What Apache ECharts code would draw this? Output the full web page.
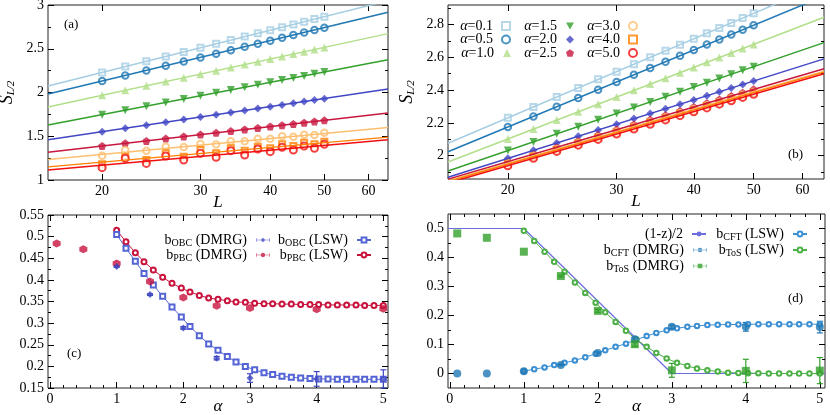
<!DOCTYPE html>
<html>
<head>
<meta charset="utf-8">
<script src="https://cdn.jsdelivr.net/npm/echarts@6/dist/echarts.min.js"></script>
<style>
  html, body { margin: 0; padding: 0; background: #fff; }
  #chart { width: 830px; height: 415px; }
</style>
</head>
<body>
<div id="chart"></div>
<script>
// ---------- data ----------
var lSizes = [20, 22, 24, 26, 28, 30, 32, 34, 36, 38, 40, 42, 44, 46, 48, 50];
var alphaNames = ['0.1', '0.5', '1.0', '1.5', '2.0', '2.5', '3.0', '4.0', '5.0'];

// (a) S_{L/2}, one array per alpha
var a01 = [2.230, 2.296, 2.357, 2.412, 2.464, 2.512, 2.557, 2.599, 2.639, 2.677, 2.712, 2.746, 2.778, 2.809, 2.839, 2.867];
var a05 = [2.131, 2.194, 2.252, 2.306, 2.355, 2.401, 2.444, 2.484, 2.522, 2.558, 2.592, 2.625, 2.656, 2.686, 2.714, 2.741];
var a10 = [1.968, 2.025, 2.077, 2.125, 2.169, 2.210, 2.249, 2.285, 2.319, 2.351, 2.382, 2.411, 2.439, 2.466, 2.491, 2.515];
var a15 = [1.747, 1.798, 1.844, 1.887, 1.926, 1.963, 1.997, 2.029, 2.060, 2.088, 2.116, 2.142, 2.166, 2.190, 2.213, 2.234];
var a20 = [1.552, 1.591, 1.627, 1.660, 1.691, 1.719, 1.746, 1.771, 1.795, 1.817, 1.838, 1.858, 1.878, 1.896, 1.914, 1.930];
var a25 = [1.389, 1.420, 1.447, 1.473, 1.497, 1.519, 1.539, 1.559, 1.577, 1.594, 1.611, 1.626, 1.641, 1.655, 1.669, 1.682];
var a30 = [1.278, 1.343, 1.335, 1.381, 1.377, 1.411, 1.407, 1.442, 1.442, 1.472, 1.472, 1.499, 1.495, 1.518, 1.514, 1.541];
var a40 = [1.179, 1.274, 1.229, 1.305, 1.267, 1.343, 1.305, 1.362, 1.335, 1.381, 1.362, 1.408, 1.389, 1.427, 1.408, 1.438];
var a50 = [1.141, 1.248, 1.190, 1.274, 1.229, 1.305, 1.259, 1.335, 1.286, 1.354, 1.324, 1.373, 1.343, 1.389, 1.362, 1.408];
// fitted lines of (a), value at L=16 and L=65
var fitL = [16, 65];
var fitAStart = [2.075, 1.982, 1.835, 1.628, 1.460, 1.318, 1.235, 1.150, 1.113];
var fitAEnd = [3.049, 2.916, 2.673, 2.374, 2.039, 1.766, 1.600, 1.490, 1.460];

// (b)
var b01 = [2.231, 2.297, 2.358, 2.413, 2.465, 2.512, 2.557, 2.599, 2.639, 2.676, 2.712, 2.746, 2.778, 2.809, 2.839, 2.867];
var b05 = [2.175, 2.239, 2.298, 2.352, 2.402, 2.449, 2.493, 2.534, 2.572, 2.609, 2.644, 2.677, 2.708, 2.738, 2.767, 2.794];
var b10 = [2.102, 2.162, 2.217, 2.267, 2.314, 2.357, 2.398, 2.436, 2.472, 2.506, 2.538, 2.569, 2.598, 2.626, 2.653, 2.678];
var b15 = [2.031, 2.084, 2.133, 2.177, 2.219, 2.257, 2.293, 2.327, 2.359, 2.389, 2.418, 2.445, 2.471, 2.496, 2.520, 2.542];
var b20 = [1.984, 2.033, 2.078, 2.119, 2.157, 2.192, 2.226, 2.257, 2.286, 2.314, 2.340, 2.365, 2.389, 2.412, 2.434, 2.455];
var b25 = [1.964, 2.010, 2.051, 2.090, 2.126, 2.159, 2.190, 2.219, 2.246, 2.272, 2.297, 2.320, 2.342, 2.364, 2.384, 2.404];
var b30 = [1.954, 1.999, 2.041, 2.079, 2.114, 2.147, 2.178, 2.207, 2.234, 2.260, 2.284, 2.307, 2.329, 2.350, 2.371, 2.390];
var b40 = [1.948, 1.993, 2.035, 2.073, 2.108, 2.141, 2.172, 2.201, 2.228, 2.254, 2.278, 2.301, 2.323, 2.344, 2.365, 2.384];
var b50 = [1.939, 1.984, 2.026, 2.064, 2.099, 2.132, 2.162, 2.191, 2.218, 2.244, 2.268, 2.291, 2.314, 2.335, 2.355, 2.374];
var fitBStart = [2.076, 2.024, 1.962, 1.907, 1.869, 1.857, 1.848, 1.842, 1.833];
var fitBEnd = [3.049, 2.972, 2.843, 2.689, 2.590, 2.530, 2.515, 2.509, 2.499];

// (c) and (d): DMRG points
var alphaDmrg = [0.1, 0.5, 1.0, 1.5, 2.0, 2.5, 3.0, 4.0, 5.0];
var obcDmrg = [null, null, 0.431, 0.366, 0.289, 0.219, 0.173, 0.171, 0.171];
var obcDmrgErr = [0, 0, 0.002, 0.002, 0.003, 0.004, 0.010, 0.017, 0.021];
var pbcDmrg = [0.484, 0.471, 0.438, 0.396, 0.359, 0.340, 0.335, 0.332, 0.333];
var cftDmrg = [0.000, 0.000, 0.008, 0.029, 0.071, 0.118, 0.161, 0.161, 0.160];
var cftDmrgErr = [0, 0, 0, 0.002, 0.003, 0.004, 0.006, 0.015, 0.020];
var tosDmrg = [0.483, 0.468, 0.420, 0.336, 0.216, 0.101, 0.011, 0.009, 0.010];
var tosDmrgErr = [0, 0, 0, 0.003, 0.005, 0.008, 0.024, 0.040, 0.045];

// LSW curves
var alphaLsw = [1.00, 1.14, 1.28, 1.41, 1.55, 1.69, 1.83, 1.97, 2.10, 2.24, 2.38, 2.52, 2.66, 2.79, 2.93,
                3.07, 3.21, 3.34, 3.48, 3.62, 3.76, 3.90, 4.03, 4.17, 4.31, 4.45, 4.59, 4.72, 4.86, 5.00];
var obcLsw = [0.505, 0.473, 0.443, 0.415, 0.388, 0.362, 0.337, 0.314, 0.292, 0.271, 0.252, 0.237, 0.223, 0.210, 0.200,
              0.192, 0.185, 0.181, 0.177, 0.175, 0.173, 0.172, 0.171, 0.171, 0.170, 0.170, 0.170, 0.170, 0.170, 0.170];
var pbcLsw = [0.515, 0.488, 0.463, 0.442, 0.423, 0.406, 0.392, 0.381, 0.372, 0.364, 0.358, 0.355, 0.352, 0.349, 0.348,
              0.346, 0.345, 0.345, 0.344, 0.344, 0.343, 0.343, 0.343, 0.342, 0.342, 0.342, 0.342, 0.341, 0.341, 0.341];
var cftLsw = [0.008, 0.015, 0.021, 0.029, 0.037, 0.045, 0.056, 0.068, 0.080, 0.092, 0.103, 0.117, 0.129, 0.140, 0.149,
              0.156, 0.161, 0.164, 0.167, 0.168, 0.169, 0.169, 0.170, 0.170, 0.170, 0.170, 0.170, 0.170, 0.170, 0.170];
var tosLsw = [0.492, 0.457, 0.420, 0.385, 0.351, 0.314, 0.278, 0.244, 0.211, 0.178, 0.147, 0.117, 0.092, 0.071, 0.052,
              0.037, 0.026, 0.017, 0.011, 0.007, 0.003, 0.002, 0.001, 0.001, 0.000, 0.000, 0.000, 0.000, 0.000, 0.000];
// (1-z)/2
var zAlpha = [-0.03, 1, 3, 5.07];
var zHalf = [0.5, 0.5, 0, 0];

// tick labels
var tickL = [20, 30, 40, 50, 60];
var tickA = [1, 1.5, 2, 2.5, 3];
var minorA = [1.25, 1.75, 2.25, 2.75];
var tickB = [2, 2.2, 2.4, 2.6, 2.8];
var minorB = [1.9, 2.1, 2.3, 2.5, 2.7, 2.9];
var tickC = [0.15, 0.2, 0.25, 0.3, 0.35, 0.4, 0.45, 0.5, 0.55];
var minorC = [0.175, 0.225, 0.275, 0.325, 0.375, 0.425, 0.475, 0.525];
var tickD = [0, 0.1, 0.2, 0.3, 0.4, 0.5];
var minorD = [0.05, 0.15, 0.25, 0.35, 0.45];
var tickAlpha = [0, 1, 2, 3, 4, 5];

// ---------- chart ----------
var FONT = 'Liberation Serif';
var chart = echarts.init(document.getElementById('chart'));

var minorAlpha = [];
for (var m = 0; m < 5; m++) {
  for (var q = 1; q < 5; q++) minorAlpha.push(m + q * 0.2);
}
var lnTicks = tickL.map(function (v) { return Math.log(v); });

function fmtNum(v) { return String(Math.round(v * 1000) / 1000); }
function fmtL(v) { return String(Math.round(Math.exp(v))); }

var nameItalic = { fontFamily: FONT, fontSize: 17, fontStyle: 'italic', color: '#000' };
var nameS = {
  fontFamily: FONT, fontSize: 17, color: '#000',
  rich: {
    s: { fontFamily: FONT, fontSize: 18, fontStyle: 'italic', color: '#000' },
    sub: { fontFamily: FONT, fontSize: 11, fontStyle: 'italic', color: '#000', verticalAlign: 'bottom', padding: [9, 0, 0, 0] }
  }
};

// box axes: labelled major ticks + mirrored ticks on the other side, optional minor ticks
function addAxes(list, dim, gi, min, max, majors, minors, fmt, name, nameGap, nameStyle) {
  var pos = dim === 'x' ? ['bottom', 'top'] : ['left', 'right'];
  function base(p) {
    return {
      type: 'value', gridIndex: gi, min: min, max: max, position: p,
      splitLine: { show: false }, axisLine: { show: false, onZero: false }
    };
  }
  var first = list.length;
  var main = base(pos[0]);
  main.axisTick = { inside: true, length: 6, customValues: majors, lineStyle: { color: '#000' } };
  main.axisLabel = { customValues: majors, formatter: fmt, fontFamily: FONT, fontSize: 14, color: '#000', margin: 4 };
  if (name) {
    main.name = name;
    main.nameLocation = 'middle';
    main.nameGap = nameGap;
    main.nameMoveOverlap = false;
    main.nameTextStyle = nameStyle;
    if (dim === 'y') main.nameRotate = 90;
  }
  list.push(main);
  var mirror = base(pos[1]);
  mirror.axisTick = { inside: true, length: 6, customValues: majors, lineStyle: { color: '#000' } };
  mirror.axisLabel = { show: false };
  list.push(mirror);
  if (minors) {
    for (var k = 0; k < 2; k++) {
      var mi = base(pos[k]);
      mi.axisTick = { inside: true, length: 3, customValues: minors, lineStyle: { color: '#000' } };
      mi.axisLabel = { show: false };
      list.push(mi);
    }
  }
  return first;
}

var xAxes = [], yAxes = [];
// (a)
var xLogA = xAxes.length;
xAxes.push({ type: 'log', gridIndex: 0, min: 16, max: 65, show: false });
addAxes(xAxes, 'x', 0, Math.log(16), Math.log(65), lnTicks, null, fmtL, 'L', 14, nameItalic);
var yA = addAxes(yAxes, 'y', 0, 1, 3, tickA, minorA, fmtNum, '{s|S}{sub|L/2}', 31, nameS);
// (b)
var xLogB = xAxes.length;
xAxes.push({ type: 'log', gridIndex: 1, min: 16, max: 65, show: false });
addAxes(xAxes, 'x', 1, Math.log(16), Math.log(65), lnTicks, null, fmtL, 'L', 14, nameItalic);
var yB = addAxes(yAxes, 'y', 1, 1.858, 2.918, tickB, minorB, fmtNum, '{s|S}{sub|L/2}', 31, nameS);
// (c)
var xC = addAxes(xAxes, 'x', 2, -0.03, 5.07, tickAlpha, minorAlpha, fmtNum, 'α', 10, nameItalic);
var yC = addAxes(yAxes, 'y', 2, 0.15, 0.55, tickC, minorC, fmtNum, '', 0, null);
// (d)
var xD = addAxes(xAxes, 'x', 3, -0.025, 5.07, tickAlpha, minorAlpha, fmtNum, 'α', 10, nameItalic);
var yD = addAxes(yAxes, 'y', 3, -0.05, 0.55, tickD, minorD, fmtNum, '', 0, null);

function zip(xs, ys) {
  var out = [];
  xs.forEach(function (x, k) { if (ys[k] != null) out.push([x, ys[k]]); });
  return out;
}

function errRender(params, api) {
  var x = api.value(0), y = api.value(1), e = api.value(2);
  var lo = api.coord([x, y - e]), hi = api.coord([x, y + e]);
  var st = { stroke: api.visual('color'), lineWidth: 1.2 };
  return {
    type: 'group', children: [
      { type: 'line', shape: { x1: lo[0], y1: lo[1], x2: hi[0], y2: hi[1] }, style: st },
      { type: 'line', shape: { x1: lo[0] - 3, y1: lo[1], x2: lo[0] + 3, y2: lo[1] }, style: st },
      { type: 'line', shape: { x1: hi[0] - 3, y1: hi[1], x2: hi[0] + 3, y2: hi[1] }, style: st }
    ]
  };
}
function errSeries(name, xi, yi, ys, es, color) {
  var data = [];
  alphaDmrg.forEach(function (x, k) { if (ys[k] != null && es[k] > 0) data.push([x, ys[k], es[k]]); });
  return {
    type: 'custom', name: name, xAxisIndex: xi, yAxisIndex: yi, data: data, silent: true, z: 3,
    encode: { x: 0, y: 1 }, itemStyle: { color: color }, renderItem: errRender
  };
}

var colAB = ['#a6cee3', '#1f78b4', '#b2df8a', '#33a02c', '#4247c4', '#c8173f', '#fdbf6f', '#ff7f00', '#f01010'];
var PENTA = 'path://M0,-1 L0.951,-0.309 L0.588,0.809 L-0.588,0.809 L-0.951,-0.309 Z';
var DOWN = 'path://M-1,-0.8 L1,-0.8 L0,0.9 Z';
var symAB = [
  { s: 'emptyRect', size: 6, bw: 1.3 },
  { s: 'emptyCircle', size: 6.5, bw: 1.3 },
  { s: 'triangle', size: 8 },
  { s: DOWN, size: 8 },
  { s: 'diamond', size: 8 },
  { s: PENTA, size: 8 },
  { s: 'emptyCircle', size: 6.5, bw: 1.4 },
  { s: 'emptyRect', size: 6, bw: 2 },
  { s: 'emptyCircle', size: 7, bw: 2.2 }
];

var series = [];
function addFitPanel(xi, yi, arrs, starts, ends) {
  arrs.forEach(function (arr, i) {
    series.push({
      type: 'line', name: 'fit' + xi + '_' + i, xAxisIndex: xi, yAxisIndex: yi, silent: true,
      data: [[fitL[0], starts[i]], [fitL[1], ends[i]]], symbol: 'none', clip: true,
      lineStyle: { color: colAB[i], width: 1.5 }
    });
  });
  arrs.forEach(function (arr, i) {
    var sy = symAB[i];
    series.push({
      type: 'scatter', name: 'α=' + alphaNames[i], xAxisIndex: xi, yAxisIndex: yi,
      data: zip(lSizes, arr), symbol: sy.s, symbolSize: sy.size,
      itemStyle: { color: colAB[i], borderColor: colAB[i], borderWidth: sy.bw || 0 }
    });
  });
}
addFitPanel(xLogA, yA, [a01, a05, a10, a15, a20, a25, a30, a40, a50], fitAStart, fitAEnd);
addFitPanel(xLogB, yB, [b01, b05, b10, b15, b20, b25, b30, b40, b50], fitBStart, fitBEnd);

// (c)
var cObc = '#3f47c2', cObcL = '#5464d4', cPbc = '#c8133d';
series.push({
  type: 'line', name: 'b_PBC (LSW)', xAxisIndex: xC, yAxisIndex: yC, data: zip(alphaLsw, pbcLsw),
  symbol: 'emptyCircle', symbolSize: 5, lineStyle: { color: cPbc, width: 1 },
  itemStyle: { color: cPbc, borderWidth: 1 }
});
series.push({
  type: 'line', name: 'b_OBC (LSW)', xAxisIndex: xC, yAxisIndex: yC, data: zip(alphaLsw, obcLsw),
  symbol: 'emptyRect', symbolSize: 5, lineStyle: { color: cObcL, width: 1 },
  itemStyle: { color: cObcL, borderWidth: 1 }
});
series.push(errSeries('errObc', xC, yC, obcDmrg, obcDmrgErr, cObc));
var HEXA = 'path://M0,-1 L0.87,-0.5 L0.87,0.5 L0,1 L-0.87,0.5 L-0.87,-0.5 Z';
series.push({
  type: 'scatter', name: 'b_PBC (DMRG)', xAxisIndex: xC, yAxisIndex: yC, data: zip(alphaDmrg, pbcDmrg),
  symbol: HEXA, symbolSize: 8, itemStyle: { color: cPbc }, z: 4
});
series.push({
  type: 'scatter', name: 'b_OBC (DMRG)', xAxisIndex: xC, yAxisIndex: yC, data: zip(alphaDmrg, obcDmrg),
  symbol: 'diamond', symbolSize: 7, itemStyle: { color: cObc }, z: 4
});

// (d)
var cZ = '#6d6de0', cCft = '#1f78b4', cCftL = '#3b8fd2', cTos = '#33a02c', cTosL = '#4cb046';
series.push({
  type: 'line', name: '(1-z)/2', xAxisIndex: xD, yAxisIndex: yD, data: zip(zAlpha, zHalf),
  symbol: 'none', lineStyle: { color: cZ, width: 1.2 }, itemStyle: { color: cZ }
});
series.push({
  type: 'line', name: 'b_CFT (LSW)', xAxisIndex: xD, yAxisIndex: yD, data: zip(alphaLsw, cftLsw),
  symbol: 'emptyCircle', symbolSize: 4.5, lineStyle: { color: cCftL, width: 1 },
  itemStyle: { color: cCftL, borderWidth: 1 }
});
series.push({
  type: 'line', name: 'b_ToS (LSW)', xAxisIndex: xD, yAxisIndex: yD, data: zip(alphaLsw, tosLsw),
  symbol: 'emptyCircle', symbolSize: 4.5, lineStyle: { color: cTosL, width: 1 },
  itemStyle: { color: cTosL, borderWidth: 1 }
});
series.push(errSeries('errCft', xD, yD, cftDmrg, cftDmrgErr, cCft));
series.push(errSeries('errTos', xD, yD, tosDmrg, tosDmrgErr, cTos));
series.push({
  type: 'scatter', name: 'b_CFT (DMRG)', xAxisIndex: xD, yAxisIndex: yD, data: zip(alphaDmrg, cftDmrg),
  symbol: 'circle', symbolSize: 8, itemStyle: { color: cCft }, z: 4
});
series.push({
  type: 'scatter', name: 'b_ToS (DMRG)', xAxisIndex: xD, yAxisIndex: yD, data: zip(alphaDmrg, tosDmrg),
  symbol: 'rect', symbolSize: 8, itemStyle: { color: cTos }, z: 4
});

// legends, one per entry so that the samples line up like gnuplot keys
var legRich = {
  i: { fontFamily: FONT, fontSize: 14, fontStyle: 'italic', color: '#000' },
  n: { fontFamily: FONT, fontSize: 14, color: '#000' },
  sub: { fontFamily: FONT, fontSize: 10, color: '#000', verticalAlign: 'bottom', padding: [6, 0, 0, 0] }
};
function legFmt(n) {
  if (n.charAt(0) === 'α') return '{i|α}' + n.slice(1);
  return n.replace(/^b_(\w+)/, '{n|b}{sub|$1}');
}
var ERR_DIAM = 'path://M0,1h1v6h-1z M23,1h1v6h-1z M0,3.5h24v1h-24z M12,0l4,4l-4,4l-4,-4z';
var ERR_HEX = 'path://M0,1h1v6h-1z M23,1h1v6h-1z M0,3.5h24v1h-24z M12,0l3.5,2v4l-3.5,2l-3.5,-2v-4z';
var ERR_CIRC = 'path://M0,1h1v6h-1z M23,1h1v6h-1z M0,3.5h24v1h-24z M8,4a4,4 0 1,0 8,0a4,4 0 1,0 -8,0z';
var ERR_RECT = 'path://M0,1h1v6h-1z M23,1h1v6h-1z M0,3.5h24v1h-24z M8,0h8v8h-8z';
function legendItem(name, right, top, icon, w, h) {
  return {
    right: right, top: top, padding: 0, align: 'right', selectedMode: false,
    itemWidth: w, itemHeight: h,
    data: [icon ? { name: name, icon: icon } : name],
    formatter: legFmt,
    textStyle: { fontFamily: FONT, fontSize: 14, color: '#000', padding: [0, 4, 0, 0], rich: legRich }
  };
}
var legends = [];
var bRows = [19, 32.5, 46], bRight = [319, 256, 192];
alphaNames.forEach(function (a, i) {
  legends.push(legendItem('α=' + a, bRight[Math.floor(i / 3)], bRows[i % 3], null, 8, 8));
});
legends.push(legendItem('b_OBC (DMRG)', 560, 233, ERR_DIAM, 14, 6));
legends.push(legendItem('b_PBC (DMRG)', 560, 248, ERR_HEX, 14, 6));
legends.push(legendItem('b_OBC (LSW)', 458, 233, null, 14, 6));
legends.push(legendItem('b_PBC (LSW)', 458, 248, null, 14, 6));
legends.push(legendItem('(1-z)/2', 123, 227, null, 14, 6));
legends.push(legendItem('b_CFT (DMRG)', 123, 243, ERR_CIRC, 14, 6));
legends.push(legendItem('b_ToS (DMRG)', 123, 259, ERR_RECT, 14, 6));
legends.push(legendItem('b_CFT (LSW)', 22, 227, null, 14, 6));
legends.push(legendItem('b_ToS (LSW)', 22, 243, null, 14, 6));

function gridBox(l, t, w, h) {
  return { left: l, top: t, width: w, height: h, show: true, borderColor: '#222', borderWidth: 1,
           backgroundColor: 'transparent', containLabel: false, outerBoundsMode: 'none' };
}
function tag(text, l, t) {
  return { type: 'text', left: l, top: t, style: { text: text, font: '13px "' + FONT + '"', fill: '#000' } };
}

chart.setOption({
  animation: false,
  backgroundColor: '#fff',
  grid: [gridBox(48, 5, 340, 175), gridBox(448, 5, 376, 174), gridBox(48, 215, 340, 173), gridBox(448, 214, 377, 174)],
  xAxis: xAxes,
  yAxis: yAxes,
  legend: legends,
  series: series,
  graphic: [tag('(a)', 64, 18), tag('(b)', 788, 148), tag('(c)', 67, 347), tag('(d)', 788, 292)]
});
</script>
</body>
</html>
